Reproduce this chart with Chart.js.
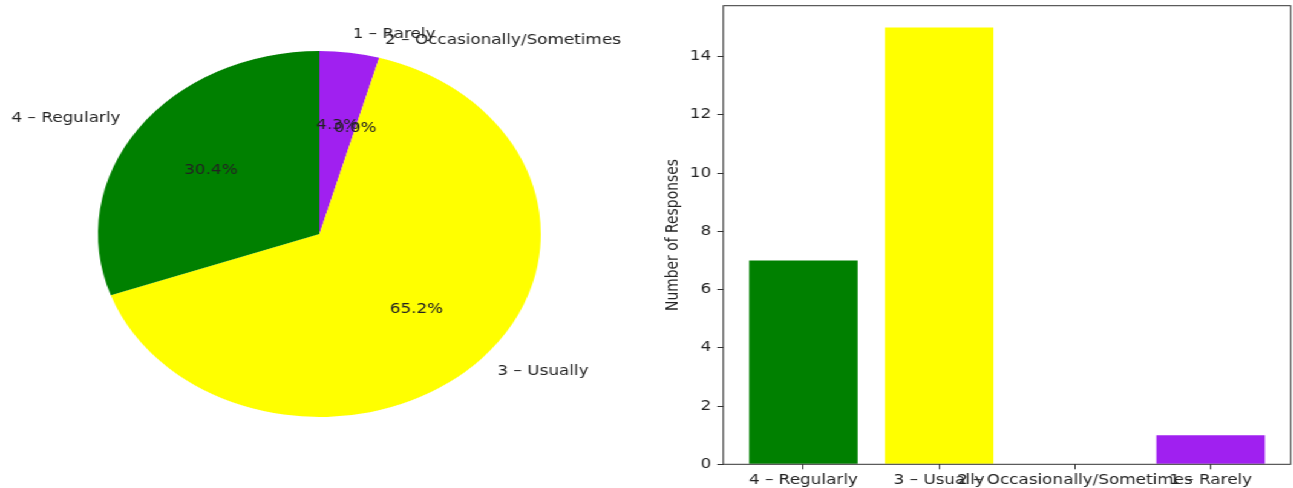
<!DOCTYPE html>
<html>
<head>
<meta charset="utf-8">
<script src="https://cdn.jsdelivr.net/npm/chart.js@4"></script>
<style>
  html, body { margin: 0; padding: 0; background: #fff; }
  #wrap {
    position: absolute; left: 0; top: 0;
    width: 1069px; height: 488px;
    transform: scaleX(1.21); transform-origin: 0 0;
  }
  #wrap canvas { position: absolute; top: 0; }
</style>
</head>
<body>
<div id="wrap">
  <canvas id="pieChart" width="560" height="488" style="left:0"></canvas>
  <canvas id="barChart" width="529" height="488" style="left:540px"></canvas>
</div>
<script>
const categories = ["4 – Regularly", "3 – Usually", "2 – Occasionally/Sometimes", "1 – Rarely"];
const responses = [7, 15, 0, 1];
const yTickValues = [0, 2, 4, 6, 8, 10, 12, 14];
const yMax = 15.75;
const xMin = -0.59;
const xMax = 3.59;
const colors = ["#008000", "#ffff00", "#a020f0", "#a020f0"];

const textColor = "#222";
const fontSize = 13.9;
Chart.defaults.font.family = "'DejaVu Sans', sans-serif";
Chart.defaults.font.size = fontSize;
Chart.defaults.color = textColor;

(function renderPie() {
    // matplotlib goes counter-clockwise, Chart.js clockwise: feed it reversed
    const labels = categories.slice().reverse();
    const values = responses.slice().reverse();
    const fills = colors.slice().reverse();
    const total = responses.reduce((a, b) => a + b, 0);

    const pieLabels = {
        id: "pieLabels",
        afterDatasetsDraw(chart) {
            const ctx = chart.ctx;
            const meta = chart.getDatasetMeta(0);
            ctx.save();
            ctx.font = fontSize + "px 'DejaVu Sans'";
            ctx.fillStyle = textColor;
            ctx.textBaseline = "middle";
            for (let i = meta.data.length - 1; i >= 0; i--) {
                const arc = meta.data[i];
                const p = arc.getProps(["x", "y", "startAngle", "endAngle", "outerRadius"], true);
                const mid = (p.startAngle + p.endAngle) / 2;
                const c = Math.cos(mid);
                const s = Math.sin(mid);
                ctx.textAlign = c > 0 ? "left" : "right";
                ctx.fillText(labels[i], p.x + c * p.outerRadius * 1.1, p.y + s * p.outerRadius * 1.1);
                ctx.textAlign = "center";
                const pct = (values[i] / total * 100).toFixed(1) + "%";
                ctx.fillText(pct, p.x + c * p.outerRadius * 0.6, p.y + s * p.outerRadius * 0.6);
            }
            ctx.restore();
        },
    };

    new Chart(document.getElementById("pieChart"), {
        type: "pie",
        data: {
            labels: labels,
            datasets: [{
                data: values,
                backgroundColor: fills,
                borderWidth: 0,
                hoverBorderWidth: 0,
                offset: 0,
                hoverOffset: 0,
            }],
        },
        options: {
            responsive: false,
            animation: false,
            layout: { padding: { left: 81, top: 51, right: 113, bottom: 71 } },
            plugins: { legend: { display: false }, tooltip: { enabled: false } },
        },
        plugins: [pieLabels],
    });
})();

(function renderBars() {
    const frame = {
        id: "frame",
        afterDatasetsDraw(chart) {
            const { ctx, chartArea: a } = chart;
            ctx.save();
            ctx.strokeStyle = "#333";
            ctx.lineWidth = 1;
            ctx.strokeRect(a.left, a.top, a.right - a.left, a.bottom - a.top);
            ctx.restore();
        },
    };

    new Chart(document.getElementById("barChart"), {
        type: "bar",
        data: {
            datasets: [{
                data: categories.map((c, i) => ({ x: i, y: responses[i] })),
                backgroundColor: colors,
                borderWidth: 0,
                barPercentage: 0.8,
                categoryPercentage: 1.0,
            }],
        },
        options: {
            responsive: false,
            animation: false,
            layout: { padding: { left: 0, top: 5.7, right: 2.3, bottom: 0 } },
            plugins: { legend: { display: false }, tooltip: { enabled: false } },
            scales: {
                x: {
                    type: "linear",
                    min: xMin,
                    max: xMax,
                    offset: false,
                    afterBuildTicks: (scale) => {
                        scale.ticks = categories.map((c, i) => ({ value: i }));
                    },
                    afterFit: (scale) => {
                        scale.height = 23.7;
                        scale.paddingLeft = 0;
                        scale.paddingRight = 0;
                    },
                    grid: { offset: false, drawOnChartArea: false, drawTicks: true, tickLength: 5, color: "#333" },
                    border: { display: false },
                    ticks: {
                        autoSkip: false,
                        maxRotation: 0,
                        minRotation: 0,
                        padding: 3,
                        color: textColor,
                        callback: (v) => categories[v],
                    },
                },
                y: {
                    min: 0,
                    max: yMax,
                    afterBuildTicks: (scale) => {
                        scale.ticks = yTickValues.map((v) => ({ value: v }));
                    },
                    afterFit: (scale) => {
                        scale.width = 57.8;
                        scale.paddingTop = 0;
                        scale.paddingBottom = 0;
                    },
                    grid: { drawOnChartArea: false, drawTicks: true, tickLength: 5, color: "#333" },
                    border: { display: false },
                    ticks: { padding: 5, color: textColor },
                    title: {
                        display: true,
                        text: "Number of Responses",
                        color: textColor,
                        padding: { top: 7.6, bottom: 0 },
                    },
                },
            },
        },
        plugins: [frame],
    });
})();
</script>
</body>
</html>
